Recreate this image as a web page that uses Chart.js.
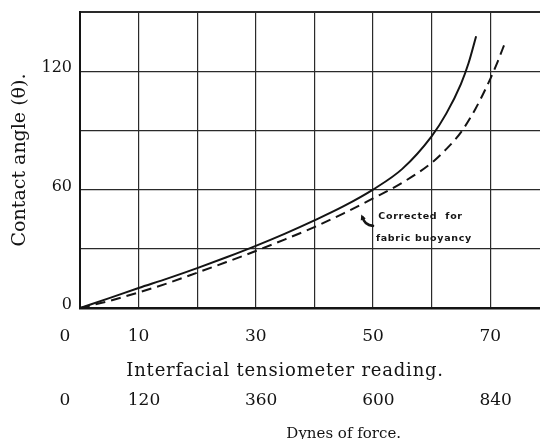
<!DOCTYPE html>
<html><head><meta charset="utf-8">
<script src="https://cdn.jsdelivr.net/npm/chart.js@4/dist/chart.umd.min.js"></script>
<style>html,body{margin:0;padding:0;background:#fff;} #wrap{width:540px;height:439px;position:relative;}</style>
</head><body><div id="wrap"><canvas id="c"></canvas></div>
<script>
// ---- data ----
const readingSolid = [0, 5, 10, 15, 20, 25, 30, 35, 40, 45, 50, 55, 60, 62.5, 65, 66.3, 67.6];
const angleSolid   = [0, 5, 10.1, 15, 20.2, 25.7, 31.5, 37.7, 44.4, 51.6, 60, 70.5, 87, 98.5, 113.5, 124, 137.7];
const readingDashed = [0, 5, 10, 15, 20, 25, 30, 35, 40, 45, 50, 55, 60, 62.5, 65, 67.5, 70, 71.3, 72.6];
const angleDashed   = [0, 3.6, 7.9, 12.6, 17.9, 23.3, 28.9, 34.8, 41, 48, 55.5, 63.5, 73.5, 80.5, 89, 101, 116, 125, 135];
const readingTickLabels = [0, 10, 30, 50, 70];
const dynesTickLabels = [0, 120, 360, 600, 840];
const angleTickLabels = [0, 60, 120];
const xTitle = 'Interfacial tensiometer reading.';
const x2Title = 'Dynes of force.';
const yTitle = 'Contact angle (\u03B8).';
const noteLines = ['Corrected  for', 'fabric buoyancy'];

// ---- style ----
const INK = '#141414';
const SERIF = '"DejaVu Serif", "Liberation Serif", serif';

const toXY = (xs, ys) => xs.map((x, i) => ({x, y: ys[i]}));

const bottomText = {
  id: 'bottomText',
  afterDraw(chart) {
    const ctx = chart.ctx, xs = chart.scales.x, ys = chart.scales.y;
    const base = chart.chartArea.bottom;
    ctx.save();
    ctx.fillStyle = INK;
    ctx.textBaseline = 'middle';
    ctx.textAlign = 'left';
    ctx.font = '17px ' + SERIF;
    readingTickLabels.forEach((v, i) => {
      const t = String(v);
      const w = ctx.measureText(t).width;
      const cx = xs.getPixelForValue(v) + (v === 0 ? -15 : 0);
      const left = cx - w / 2;
      ctx.fillText(t, left, base + 29);
      ctx.fillText(String(dynesTickLabels[i]), left, base + 93);
    });
    ctx.textAlign = 'center';
    ctx.font = '18px ' + SERIF;
    ctx.letterSpacing = '0.8px';
    ctx.fillText(xTitle, xs.getPixelForValue(35), base + 63);
    ctx.letterSpacing = '0px';
    ctx.font = '15px ' + SERIF;
    ctx.fillText(x2Title, xs.getPixelForValue(45), base + 126);

    // annotation
    ctx.font = 'bold 9.5px "DejaVu Sans", sans-serif';
    ctx.letterSpacing = '0.7px';
    ctx.textAlign = 'left';
    ctx.fillText(noteLines[0], xs.getPixelForValue(50.9), ys.getPixelForValue(46.6));
    ctx.fillText(noteLines[1], xs.getPixelForValue(50.5), ys.getPixelForValue(35.4));
    ctx.letterSpacing = '0px';
    // curved arrow
    const tx = xs.getPixelForValue(48.0), ty = ys.getPixelForValue(47.4);
    const ex = xs.getPixelForValue(50.0), ey = ys.getPixelForValue(41.6);
    ctx.strokeStyle = INK;
    ctx.lineWidth = 2.6;
    ctx.lineCap = 'round';
    ctx.beginPath();
    ctx.moveTo(ex, ey);
    ctx.quadraticCurveTo(tx + 3, ey - 1, tx + 1.5, ty + 3);
    ctx.stroke();
    ctx.beginPath();
    ctx.moveTo(tx, ty);
    ctx.lineTo(tx + 4.5, ty + 4);
    ctx.lineTo(tx - 0.5, ty + 6);
    ctx.closePath();
    ctx.fillStyle = INK;
    ctx.fill();
    ctx.restore();
  }
};

new Chart(document.getElementById('c'), {
  type: 'scatter',
  data: {
    datasets: [
      {label: 'Uncorrected', data: toXY(readingSolid, angleSolid), showLine: true,
       borderColor: INK, borderWidth: 2, pointRadius: 0, cubicInterpolationMode: 'monotone', fill: false},
      {label: 'Corrected for fabric buoyancy', data: toXY(readingDashed, angleDashed), showLine: true,
       borderColor: INK, borderWidth: 2, borderDash: [10, 6], pointRadius: 0, cubicInterpolationMode: 'monotone', fill: false}
    ]
  },
  options: {
    responsive: true,
    maintainAspectRatio: false,
    animation: false,
    devicePixelRatio: 1,
    layout: {padding: {top: 12, left: 0, right: 0, bottom: 0}},
    plugins: {legend: {display: false}, tooltip: {enabled: false}},
    scales: {
      x: {
        type: 'linear', position: 'bottom', min: 0, max: 78.5,
        ticks: {display: false, stepSize: 10, includeBounds: false},
        grid: {color: '#2a2a2a', lineWidth: 1.2, drawTicks: false},
        border: {color: INK, width: 2.5},
        afterFit(s) { s.height = 131; s.paddingLeft = 0; s.paddingRight = 0; }
      },
      y: {
        type: 'linear', min: 0, max: 150,
        ticks: {stepSize: 30, color: INK, font: {family: SERIF, size: 16}, padding: 8, labelOffset: -3,
                callback: v => angleTickLabels.includes(v) ? String(v) : ''},
        grid: {color: '#2a2a2a', lineWidth: c => (c.tick && c.tick.value === 150) ? 2 : 1.2, drawTicks: false},
        border: {color: INK, width: 2},
        title: {display: true, text: yTitle, color: INK, font: {family: SERIF, size: 19}, padding: {top: 9, bottom: 0}},
        afterFit(s) { s.width = 80; s.paddingTop = 0; s.paddingBottom = 0; }
      }
    }
  },
  plugins: [bottomText]
});
</script>
</body></html>
